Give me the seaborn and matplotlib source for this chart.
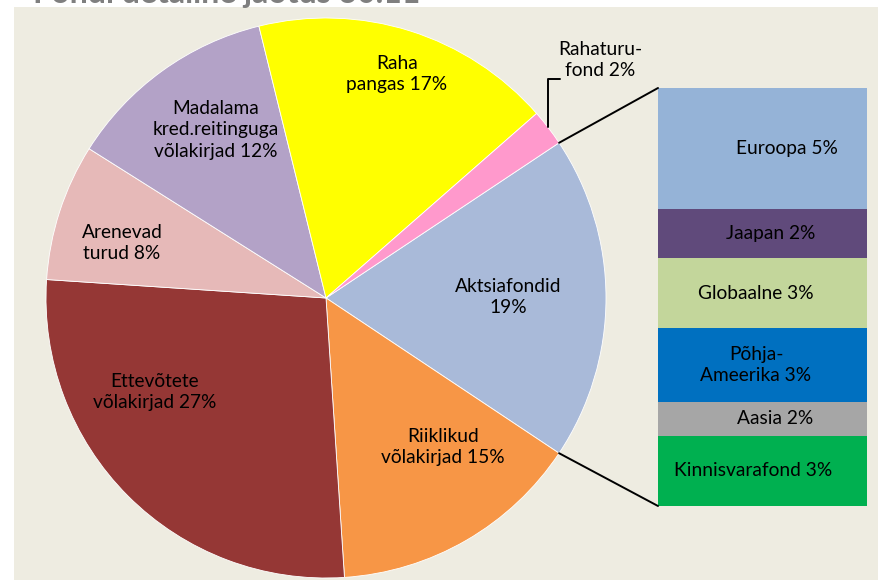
import numpy as np
import matplotlib
matplotlib.use("Agg")
import matplotlib.pyplot as plt
from matplotlib.patches import Rectangle, ConnectionPatch
import seaborn as sns

# ---- data ----
pie_labels = ["Aktsiafondid\n19%", "Riiklikud\nvõlakirjad 15%", "Ettevõtete\nvõlakirjad 27%",
              "Arenevad\nturud 8%", "Madalama\nkred.reitinguga\nvõlakirjad 12%",
              "Raha\npangas 17%", "Rahaturu-\nfond 2%"]
pie_values = [18.7, 14.6, 27.1, 7.9, 12.2, 17.4, 2.1]
pie_colors = ["#A9BAD9", "#F79646", "#953735", "#E6B9B8", "#B3A2C7", "#FFFF00", "#FF99CC"]

bar_labels = ["Euroopa 5%", "Jaapan 2%", "Globaalne 3%", "Põhja-\nAmeerika 3%", "Aasia 2%",
              "Kinnisvarafond 3%"]
bar_values = [5.4, 2.2, 3.15, 3.3, 1.5, 3.15]
bar_colors = ["#95B3D7", "#604A7B", "#C3D69B", "#0070C0", "#A6A6A6", "#00B050"]

title = "Fondi detailne jaotus 30.11"

sns.set_theme(style="white")
plt.rcParams["font.family"] = ["Lato", "DejaVu Sans"]

W, H = 879, 580
fig = plt.figure(figsize=(W / 100, H / 100), dpi=100, facecolor="white")

def fx(x):
    return x / W

def fy(y):
    return 1 - y / H

# background panel
bg = Rectangle((fx(14), 0), 1 - fx(14), fy(7), transform=fig.transFigure,
               facecolor="#EEECE1", edgecolor="none", zorder=-5)
fig.add_artist(bg)

# title (cut off at the top as in the reference)
fig.text(fx(33), fy(2.5), title, fontsize=23, fontweight="bold", color="#7F7F7F",
         ha="left", va="baseline", zorder=-4)

# ---- pie ----
cx, cy, r = 326, 298, 280
ax_pie = fig.add_axes([fx(cx - r), fy(cy + r), 2 * r / W, 2 * r / H])
ax_pie.set_facecolor("none")
total = sum(pie_values)
start = pie_values[0] / total * 360 / 2
wedges, _ = ax_pie.pie(pie_values, colors=pie_colors, startangle=start, counterclock=False,
                       radius=1, wedgeprops=dict(edgecolor="white", linewidth=0.6))
ax_pie.set_xlim(-1, 1)
ax_pie.set_ylim(-1, 1)
ax_pie.set_aspect("auto")
ax_pie.axis("off")

# ---- bar of pie ----
bx0, bx1, by0, by1 = 658, 867, 88, 506
ax_bar = fig.add_axes([fx(bx0), fy(by1), (bx1 - bx0) / W, (by1 - by0) / H])
ax_bar.set_facecolor("none")
bar_total = sum(bar_values)
bottoms = np.concatenate([[0], np.cumsum(bar_values)[:-1]])
ax_bar.bar([0] * len(bar_values), bar_values, bottom=bottoms, width=1.0, color=bar_colors,
           edgecolor="none")
ax_bar.set_xlim(-0.5, 0.5)
ax_bar.set_ylim(bar_total, 0)
ax_bar.axis("off")

# connector lines
a1 = np.deg2rad(start)
a2 = np.deg2rad(start - pie_values[0] / total * 360)
for ang, yb in [(a1, 0), (a2, bar_total)]:
    con = ConnectionPatch(xyA=(np.cos(ang), np.sin(ang)), coordsA=ax_pie.transData,
                          xyB=(-0.5, yb), coordsB=ax_bar.transData,
                          color="black", linewidth=1.4)
    fig.add_artist(con)

fs = 13.8
# pie labels (pixel positions)
pie_label_pos = [(508, 297), (443, 447), (155, 392), (122, 243), (216, 130), (397, 74), (600, 60)]
for lab, (x, y) in zip(pie_labels, pie_label_pos):
    fig.text(fx(x), fy(y), lab, ha="center", va="center", fontsize=fs, color="black",
             linespacing=1.3)

# leader line for Rahaturufond (pixel path converted to pie coordinates)
def px(x):
    return (x - cx) / r

def py(y):
    return (cy - y) / r

ax_pie.plot([px(548), px(548), px(560)], [py(127), py(79), py(79)],
            color="black", linewidth=1.4, clip_on=False)

# bar labels
bar_label_x = [787, 771, 756, 756, 775, 753]
centers = bottoms + np.array(bar_values) / 2
for lab, xl, c in zip(bar_labels, bar_label_x, centers):
    ax_bar.text((xl - bx0) / (bx1 - bx0) - 0.5, c, lab, ha="center", va="center",
                fontsize=fs, color="black", linespacing=1.3)

fig.savefig("out.png", dpi=100, facecolor="white")
